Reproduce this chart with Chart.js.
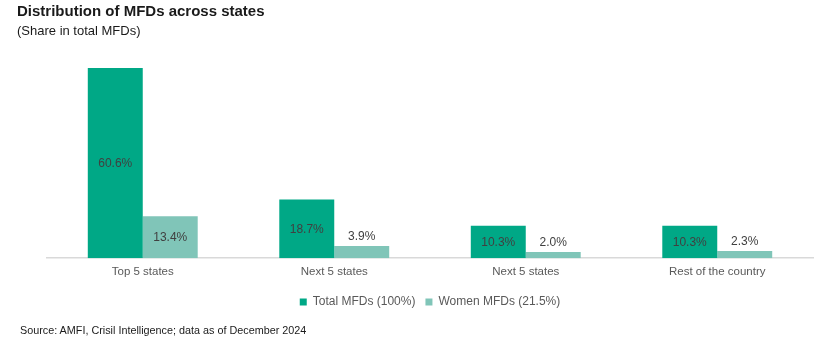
<!DOCTYPE html>
<html>
<head>
<meta charset="utf-8">
<script src="https://cdn.jsdelivr.net/npm/chart.js@4"></script>
<style>
  html, body { margin: 0; padding: 0; background: #fff; }
  #wrap { position: relative; width: 834px; height: 341px; overflow: hidden; font-family: "Liberation Sans", Arial, sans-serif; }
  #c { position: absolute; left: 0; top: 0; }
  .title { position: absolute; left: 17px; top: 2px; font-size: 15px; font-weight: bold; color: #1a1a1a; }
  .sub { position: absolute; left: 17px; top: 23px; font-size: 13px; color: #1a1a1a; }
  .src { position: absolute; left: 20px; top: 324px; font-size: 10.8px; color: #1a1a1a; }
</style>
</head>
<body>
<div id="wrap">
  <canvas id="c" width="834" height="341"></canvas>
  <div class="title">Distribution of MFDs across states</div>
  <div class="sub">(Share in total MFDs)</div>
  <div class="src">Source: AMFI, Crisil Intelligence; data as of December 2024</div>
</div>
<script>
const categories = ["Top 5 states", "Next 5 states", "Next 5 states", "Rest of the country"];
const seriesNames = ["Total MFDs (100%)", "Women MFDs (21.5%)"];
const totalMFDs = [60.6, 18.7, 10.3, 10.3];
const womenMFDs = [13.4, 3.9, 2.0, 2.3];

const labelPlugin = {
  id: 'barLabels',
  afterDatasetsDraw(chart) {
    const ctx = chart.ctx;
    ctx.save();
    ctx.font = '12px "Liberation Sans", Arial, sans-serif';
    ctx.fillStyle = '#404040';
    ctx.textAlign = 'center';
    ctx.textBaseline = 'middle';
    chart.data.datasets.forEach((ds, di) => {
      const meta = chart.getDatasetMeta(di);
      meta.data.forEach((bar, i) => {
        const v = ds.data[i];
        const h = bar.base - bar.y;
        let y = (bar.y + bar.base) / 2 + 1;
        if (h < 22) y = bar.y - 9;
        ctx.fillText(v.toFixed(1) + '%', bar.x, y);
      });
    });
    ctx.restore();
  }
};

new Chart(document.getElementById('c'), {
  type: 'bar',
  data: {
    labels: categories,
    datasets: [
      { label: seriesNames[0], data: totalMFDs, backgroundColor: '#00A886', barPercentage: 1, categoryPercentage: 0.574 },
      { label: seriesNames[1], data: womenMFDs, backgroundColor: '#80C5B8', barPercentage: 1, categoryPercentage: 0.574 }
    ]
  },
  options: {
    responsive: false,
    animation: false,
    devicePixelRatio: 1,
    layout: { padding: { left: 47, right: 21, top: 38.5, bottom: 23 } },
    plugins: {
      legend: {
        position: 'bottom',
        labels: {
          boxWidth: 7, boxHeight: 7, padding: 10,
          color: '#595959',
          font: { family: '"Liberation Sans", Arial, sans-serif', size: 12 }
        }
      },
      tooltip: { enabled: false },
      title: { display: false }
    },
    scales: {
      x: {
        grid: { display: false, drawTicks: false },
        border: { display: true, color: '#D9D9D9', width: 1.5 },
        ticks: { color: '#595959', padding: 7, font: { family: '"Liberation Sans", Arial, sans-serif', size: 11.5 } }
      },
      y: { display: false, min: 0, max: 70 }
    }
  },
  plugins: [labelPlugin]
});
</script>
</body>
</html>
